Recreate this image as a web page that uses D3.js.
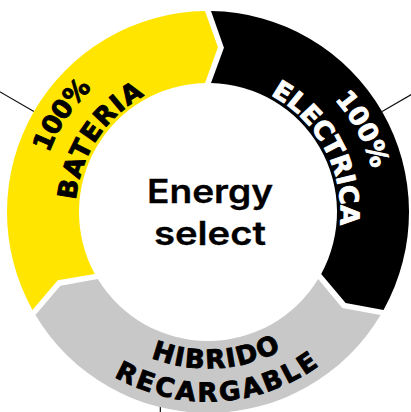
<!DOCTYPE html>
<html><head><meta charset="utf-8">
<script src="https://cdn.jsdelivr.net/npm/d3@7"></script>
<style>html,body{margin:0;padding:0;background:#fff;overflow:hidden}</style>
</head><body>
<svg id="chart" width="411" height="412"></svg>
<script>
// ---- data ----
const categories = ["100% BATERIA", "100% ELECTRICA", "HIBRIDO RECARGABLE"];
const values = [1, 1, 1];
const labelLines = [["100%", "BATERIA"], ["100%", "ELECTRICA"], ["HIBRIDO", "RECARGABLE"]];
const segmentColors = ["#FFE500", "#000000", "#C8C8C8"];
const labelColors = ["#000000", "#FFFFFF", "#000000"];
const centerLines = ["Energy", "select"];
const leaderAngles = [300, 60];

// ---- layout (styling constants) ----
const layout = {
  cx: 208, cy: 212, rOut: 201, rIn: 129, gap: 3, tipDeg: 4.5,
  fontSize: 26,
  lineRadii: { normal: [179, 142], flipped: [147, 180] },
  // angular extent of each label line (deg) and shift along reading direction (deg)
  lineSpans: [[25, 53], [25.5, 63], [53, 70]],
  lineShift: [3.5, 1.8, 3.5]
};

const svg = d3.select("#chart");
const { cx, cy, rOut, rIn, gap } = layout;
const rMid = (rOut + rIn) / 2;
const rad = Math.PI / 180;
const tip = layout.tipDeg * rad;

const pie = d3.pie().sort(null).value(d => d)
  .startAngle(-120 * rad).endAngle(240 * rad);
const arcs = pie(values);

const pt = (r, a) => [cx + r * Math.sin(a), cy - r * Math.cos(a)];
const m = a => a - Math.PI / 2;

function segPath(d) {
  const a0 = d.startAngle, a1 = d.endAngle;
  const p = d3.path();
  const s = pt(rOut, a0 + gap / rOut);
  p.moveTo(s[0], s[1]);
  p.arc(cx, cy, rOut, m(a0 + gap / rOut), m(a1 - gap / rOut), false);
  const t = pt(rMid, a1 + tip - gap / rMid);
  p.lineTo(t[0], t[1]);
  const ie = pt(rIn, a1 - gap / rIn);
  p.lineTo(ie[0], ie[1]);
  p.arc(cx, cy, rIn, m(a1 - gap / rIn), m(a0 + gap / rIn), true);
  const n = pt(rMid, a0 + tip + gap / rMid);
  p.lineTo(n[0], n[1]);
  p.closePath();
  return p.toString();
}

// leader lines
const g0 = svg.append("g");
g0.selectAll("line.lead").data(leaderAngles).join("line")
  .attr("class", "lead")
  .attr("x1", d => pt(rOut, d * rad)[0]).attr("y1", d => pt(rOut, d * rad)[1])
  .attr("x2", d => pt(rOut + 80, d * rad)[0]).attr("y2", d => pt(rOut + 80, d * rad)[1])
  .attr("stroke", "#111").attr("stroke-width", 1.2);
const bottomLeadAngle = 194;
const bp = pt(rOut - 4, bottomLeadAngle * rad);
g0.append("line").attr("x1", bp[0]).attr("y1", bp[1]).attr("x2", bp[0]).attr("y2", bp[1] + 30)
  .attr("stroke", "#111").attr("stroke-width", 1.2);

// segments
svg.append("g").selectAll("path").data(arcs).join("path")
  .attr("d", segPath)
  .attr("fill", (d, i) => segmentColors[i]);

// labels on arcs
const fs = layout.fontSize, cap = 0.729 * fs;
const defs = svg.append("defs");
arcs.forEach((d, i) => {
  let mid = (d.startAngle + d.endAngle) / 2;
  let midDeg = (mid / rad) % 360; if (midDeg < 0) midDeg += 360;
  const flip = midDeg > 90 && midDeg < 270;
  mid += (flip ? -1 : 1) * layout.lineShift[i] * rad;
  const span = 80 * rad;
  labelLines[i].forEach((txt, j) => {
    const rc = (flip ? layout.lineRadii.flipped : layout.lineRadii.normal)[j];
    const rb = flip ? rc + cap / 2 : rc - cap / 2;
    const p = d3.path();
    if (!flip) {
      const s = pt(rb, mid - span); p.moveTo(s[0], s[1]);
      p.arc(cx, cy, rb, m(mid - span), m(mid + span), false);
    } else {
      const s = pt(rb, mid + span); p.moveTo(s[0], s[1]);
      p.arc(cx, cy, rb, m(mid + span), m(mid - span), true);
    }
    const id = `lp${i}_${j}`;
    defs.append("path").attr("id", id).attr("d", p.toString());
    const t = svg.append("text")
      .attr("font-family", "'DejaVu Sans', sans-serif")
      .attr("font-weight", 700)
      .attr("font-size", fs)
      .attr("fill", labelColors[i])
      .attr("stroke", labelColors[i])
      .attr("stroke-width", 0.9)
      .attr("stroke-linejoin", "round");
    t.append("textPath")
      .attr("href", "#" + id)
      .attr("startOffset", "50%")
      .attr("text-anchor", "middle")
      .text(txt);
    // fit the line to its angular extent through letter spacing
    const natural = t.node().getComputedTextLength();
    const target = layout.lineSpans[i][j] * rad * rc;
    const ls = (target - natural) / txt.length;
    t.attr("letter-spacing", ls);
  });
});

// center text
const centerWidths = [126, 112];
svg.append("g").selectAll("text").data(centerLines).join("text")
  .attr("x", 210)
  .attr("y", (d, i) => 203 + i * 42)
  .attr("text-anchor", "middle")
  .attr("font-family", "Inter, sans-serif")
  .attr("font-weight", 600)
  .attr("font-size", 32)
  .attr("textLength", (d, i) => centerWidths[i])
  .attr("lengthAdjust", "spacingAndGlyphs")
  .attr("fill", "#000")
  .attr("stroke", "#000")
  .attr("stroke-width", 0.3)
  .text(d => d);
</script>
</body></html>
